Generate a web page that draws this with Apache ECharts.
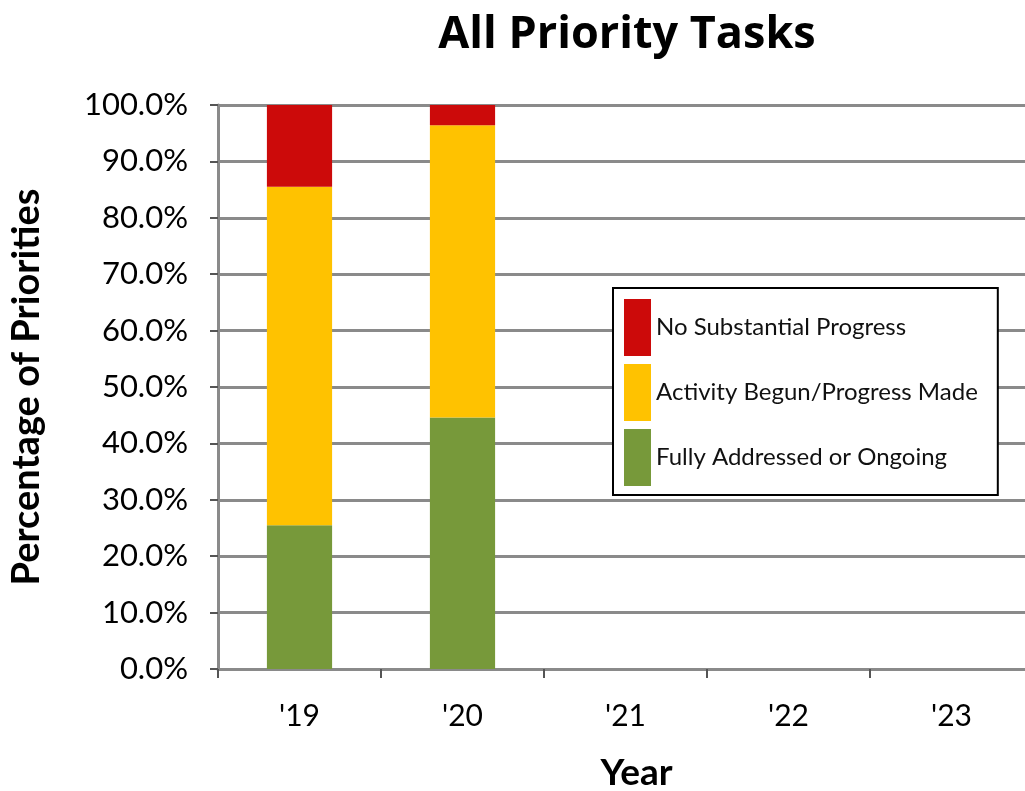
<!DOCTYPE html>
<html>
<head>
<meta charset="utf-8">
<title>All Priority Tasks</title>
<script src="https://cdn.jsdelivr.net/npm/echarts@6/dist/echarts.min.js"></script>
<style>
  html, body { margin: 0; padding: 0; background: #fff; }
  #chart { width: 1025px; height: 791px; }
</style>
</head>
<body>
<div id="chart"></div>
<script>
const years = ["'19", "'20", "'21", "'22", "'23"]
const fullyAddressed = [25.5, 44.6, null, null, null]
const activityBegun = [60.0, 51.8, null, null, null]
const noProgress = [14.5, 3.6, null, null, null]

const font = 'Lato, "Open Sans", sans-serif'
const gridColor = '#8a8a8a'

const chart = echarts.init(document.getElementById('chart'))

const barSeries = (name, data, color) => ({
  name,
  type: 'bar',
  stack: 'total',
  data,
  barWidth: '40%',
  itemStyle: { color },
})

chart.setOption({
  animation: false,
  textStyle: { fontFamily: font },
  title: {
    text: 'All Priority Tasks',
    left: 622,
    top: 8,
    textAlign: 'center',
    textStyle: { fontFamily: '"Open Sans", sans-serif', fontSize: 45, fontWeight: 'bold', color: '#000' },
  },
  grid: { left: 218, top: 105, width: 815, bottom: 122, outerBoundsMode: 'none' },
  legend: {
    orient: 'vertical',
    left: 613,
    top: 288,
    data: ['No Substantial Progress', 'Activity Begun/Progress Made', 'Fully Addressed or Ongoing'],
    icon: 'rect',
    itemWidth: 27,
    itemHeight: 57,
    itemGap: 8,
    padding: [11, 20, 9, 11],
    borderColor: '#000',
    borderWidth: 2,
    backgroundColor: '#fff',
    textStyle: { fontFamily: font, fontSize: 24, color: '#111' },
  },
  xAxis: {
    type: 'category',
    data: years,
    name: 'Year',
    nameLocation: 'middle',
    nameGap: 86,
    nameTextStyle: { fontFamily: font, fontSize: 37, fontWeight: 'bold', color: '#000', padding: [0, 0, 0, 22] },
    axisLine: { lineStyle: { color: gridColor, width: 3 } },
    axisTick: { show: true, length: 9, lineStyle: { color: '#555', width: 2 } },
    axisLabel: { fontSize: 30, color: '#000', margin: 32 },
  },
  yAxis: {
    type: 'value',
    min: 0,
    max: 100,
    interval: 10,
    name: 'Percentage of Priorities',
    nameLocation: 'middle',
    nameGap: 172,
    nameTextStyle: { fontFamily: font, fontSize: 38, fontWeight: 'bold', color: '#000' },
    axisLine: { show: true, lineStyle: { color: gridColor, width: 3 } },
    axisTick: { show: true, length: 8, lineStyle: { color: '#555', width: 2 } },
    axisLabel: { fontSize: 31, color: '#000', margin: 30, formatter: v => v.toFixed(1) + '%' },
    splitLine: { lineStyle: { color: gridColor, width: 3 } },
  },
  series: [
    barSeries('Fully Addressed or Ongoing', fullyAddressed, '#77993a'),
    barSeries('Activity Begun/Progress Made', activityBegun, '#ffc200'),
    barSeries('No Substantial Progress', noProgress, '#cc0a0a'),
  ],
})
</script>
</body>
</html>
